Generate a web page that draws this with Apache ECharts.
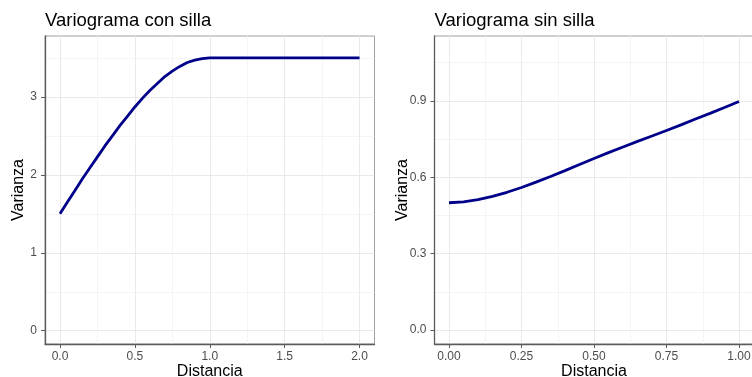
<!DOCTYPE html>
<html>
<head>
<meta charset="utf-8">
<script src="https://cdn.jsdelivr.net/npm/echarts@6/dist/echarts.min.js"></script>
<style>
  html, body { margin: 0; padding: 0; background: #fff; }
  #chart { width: 752px; height: 377px; }
</style>
</head>
<body>
<div id="chart"></div>
<script>
// Left panel: variogram that reaches a sill
const distSill = [0, 0.05, 0.1, 0.15, 0.2, 0.25, 0.3, 0.35, 0.4, 0.45, 0.5, 0.55, 0.6, 0.65, 0.7, 0.75, 0.8, 0.85, 0.9, 0.95, 1.0, 1.25, 1.5, 1.75, 2.0];
const varSill  = [1.50, 1.65, 1.80, 1.95, 2.09, 2.23, 2.37, 2.50, 2.63, 2.75, 2.87, 2.98, 3.08, 3.17, 3.26, 3.33, 3.39, 3.44, 3.47, 3.49, 3.50, 3.50, 3.50, 3.50, 3.50];

// Right panel: variogram without a sill
const distNoSill = [0, 0.05, 0.1, 0.15, 0.2, 0.25, 0.3, 0.35, 0.4, 0.45, 0.5, 0.55, 0.6, 0.65, 0.7, 0.75, 0.8, 0.85, 0.9, 0.95, 1.0];
const varNoSill  = [0.500, 0.503, 0.512, 0.525, 0.541, 0.560, 0.581, 0.603, 0.626, 0.650, 0.674, 0.697, 0.719, 0.741, 0.762, 0.784, 0.806, 0.829, 0.851, 0.874, 0.898];

// Tick positions
const xTicksSill = [0, 0.5, 1.0, 1.5, 2.0];
const xMinorSill = [0.25, 0.75, 1.25, 1.75];
const yTicksSill = [0, 1, 2, 3];
const yMinorSill = [0.5, 1.5, 2.5, 3.5];
const xTicksNoSill = [0, 0.25, 0.5, 0.75, 1.0];
const xMinorNoSill = [0.125, 0.375, 0.625, 0.875];
const yTicksNoSill = [0, 0.3, 0.6, 0.9];
const yMinorNoSill = [0.15, 0.45, 0.75, 1.05];

const titles = ['Variograma con silla', 'Variograma sin silla'];
const xName = 'Distancia';
const yName = 'Varianza';

const FONT = 'Liberation Sans, Arial, sans-serif';
const LINE = '#00008b';

function pairs(xs, ys) { return xs.map((x, i) => [x, ys[i]]); }

function majorAxis(kind, grid, min, max, ticks, fmt, name, nameGap) {
  return {
    type: 'value', gridIndex: grid, min: min, max: max,
    position: kind === 'x' ? 'bottom' : 'left',
    axisLine: { show: true, onZero: false, lineStyle: { color: '#5a5a5a', width: 1.3 } },
    axisTick: { show: true, customValues: ticks, length: 4, lineStyle: { color: '#5a5a5a', width: 1 } },
    axisLabel: { show: true, customValues: ticks, formatter: fmt, color: '#4d4d4d',
                 fontFamily: FONT, fontSize: 12, margin: kind === 'x' ? 7 : 8 },
    splitLine: { show: true, lineStyle: { color: '#e9e9e9', width: 1 } },
    name: name, nameLocation: 'middle', nameGap: nameGap, nameMoveOverlap: false,
    nameTextStyle: { color: '#000', fontFamily: FONT, fontSize: 16 }
  };
}

function minorAxis(kind, grid, min, max, ticks) {
  return {
    type: 'value', gridIndex: grid, min: min, max: max,
    position: kind === 'x' ? 'bottom' : 'left',
    axisLine: { show: false, onZero: false }, axisLabel: { show: false },
    axisTick: { show: false, customValues: ticks },
    splitLine: { show: true, lineStyle: { color: '#f4f4f4', width: 1 } }
  };
}

const chart = echarts.init(document.getElementById('chart'), null, { renderer: 'canvas' });

const gridBase = { top: 36, height: 308, show: true, borderColor: '#a0a0a0', borderWidth: 1,
                   backgroundColor: '#fff', containLabel: false, outerBoundsMode: 'none' };

const titleStyle = { fontFamily: FONT, fontSize: 18.5, fontWeight: 'normal', color: '#000' };

const option = {
  backgroundColor: '#ffffff',
  animation: false,
  title: [
    { text: titles[0], left: 45, top: 11, padding: 0, textStyle: titleStyle },
    { text: titles[1], left: 434.5, top: 11, padding: 0, textStyle: titleStyle }
  ],
  grid: [
    Object.assign({ left: 45, width: 329.5 }, gridBase),
    Object.assign({ left: 434.5, width: 319 }, gridBase)
  ],
  xAxis: [
    minorAxis('x', 0, -0.1, 2.1, xMinorSill),
    majorAxis('x', 0, -0.1, 2.1, xTicksSill, v => v.toFixed(1), xName, 20),
    minorAxis('x', 1, -0.05, 1.05, xMinorNoSill),
    majorAxis('x', 1, -0.05, 1.05, xTicksNoSill, v => v.toFixed(2), xName, 20)
  ],
  yAxis: [
    minorAxis('y', 0, -0.17, 3.78, yMinorSill),
    majorAxis('y', 0, -0.17, 3.78, yTicksSill, v => String(v), yName, 18),
    minorAxis('y', 1, -0.055, 1.155, yMinorNoSill),
    majorAxis('y', 1, -0.055, 1.155, yTicksNoSill, v => v.toFixed(1), yName, 24)
  ],
  series: [
    { type: 'line', xAxisIndex: 1, yAxisIndex: 1, data: pairs(distSill, varSill), showSymbol: false,
      lineStyle: { color: LINE, width: 2.8 }, smooth: false },
    { type: 'line', xAxisIndex: 3, yAxisIndex: 3, data: pairs(distNoSill, varNoSill), showSymbol: false,
      lineStyle: { color: LINE, width: 2.8 }, smooth: false }
  ]
};

chart.setOption(option);
</script>
</body>
</html>
